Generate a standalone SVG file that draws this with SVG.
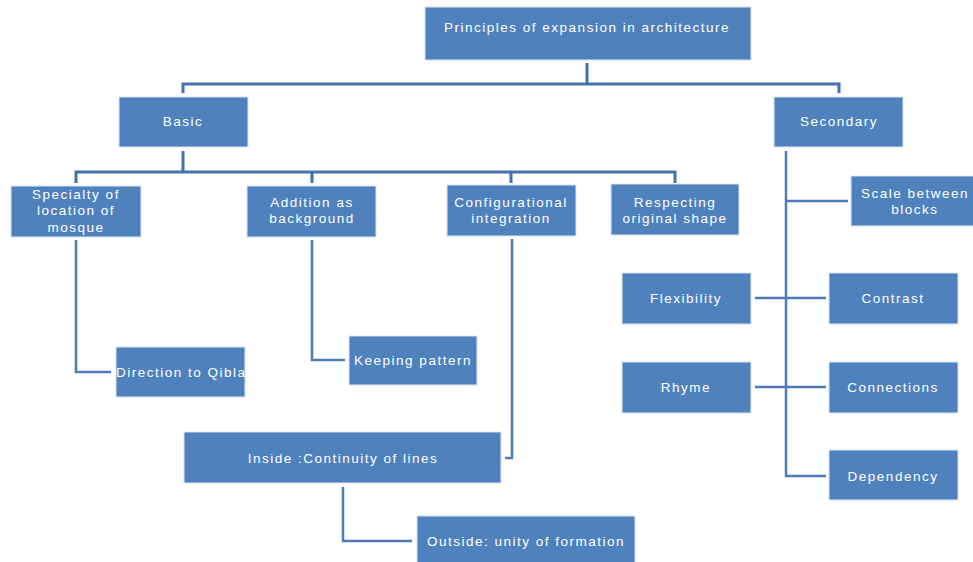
<svg xmlns="http://www.w3.org/2000/svg" width="973" height="562" viewBox="0 0 973 562">
<defs>
<clipPath id="qclip"><rect x="116" y="347" width="129" height="50"/></clipPath>
</defs>
<style>
.box{fill:#4f81bd;stroke:#dbe5f1;stroke-width:1}
.t{font-family:"Liberation Sans",Arial,sans-serif;font-size:13.5px;letter-spacing:1.5px;fill:#ffffff;text-anchor:middle;dominant-baseline:central}
.c{fill:none;stroke:#4671aa;stroke-width:3}
.c2{fill:none;stroke:#4f7cb8;stroke-width:2.5}
</style>
<rect width="973" height="562" fill="#ffffff"/>
<g id="connectors">
<path class="c" d="M587,63 V84 M183,93 V84 H839 V93"/>
<path class="c" d="M183,151 V172 M76,183 V172 H675 V183 M312,172 V183 M511,172 V183"/>
<path class="c2" d="M786,151 V476 H826 M786,201 H848 M755,298 H826 M755,387 H826"/>
<path class="c2" d="M76,240 V372 H111"/>
<path class="c2" d="M312,240 V360 H345"/>
<path class="c2" d="M512,239 V458 H505"/>
<path class="c2" d="M343,487 V541 H412"/>
</g>
<g id="n-root"><rect class="box" x="425" y="7" width="326" height="53"/><text class="t" x="587" y="27">Principles of expansion in architecture</text></g>
<g id="n-basic"><rect class="box" x="119" y="97" width="129" height="50"/><text class="t" x="183" y="121">Basic</text></g>
<g id="n-secondary"><rect class="box" x="774" y="97" width="129" height="50"/><text class="t" x="839" y="121">Secondary</text></g>
<g id="n-specialty"><rect class="box" x="11" y="186" width="130" height="51"/><text class="t"><tspan x="76" y="194">Specialty of</tspan><tspan x="76" y="210">location of</tspan><tspan x="76" y="227">mosque</tspan></text></g>
<g id="n-addition"><rect class="box" x="247" y="186" width="129" height="51"/><text class="t"><tspan x="312" y="202">Addition as</tspan><tspan x="312" y="218">background</tspan></text></g>
<g id="n-config"><rect class="box" x="447" y="185" width="129" height="51"/><text class="t"><tspan x="511" y="202">Configurational</tspan><tspan x="511" y="218">integration</tspan></text></g>
<g id="n-respect"><rect class="box" x="611" y="184" width="128" height="51"/><text class="t"><tspan x="675" y="202">Respecting</tspan><tspan x="675" y="218">original shape</tspan></text></g>
<g id="n-scale"><rect class="box" x="851" y="176" width="124" height="50"/><text class="t"><tspan x="915" y="193">Scale between</tspan><tspan x="915" y="209">blocks</tspan></text></g>
<g id="n-flex"><rect class="box" x="622" y="273" width="129" height="51"/><text class="t" x="686" y="298">Flexibility</text></g>
<g id="n-contrast"><rect class="box" x="829" y="273" width="129" height="51"/><text class="t" x="893" y="298">Contrast</text></g>
<g id="n-rhyme"><rect class="box" x="622" y="362" width="129" height="51"/><text class="t" x="686" y="387">Rhyme</text></g>
<g id="n-connections"><rect class="box" x="829" y="362" width="129" height="51"/><text class="t" x="893" y="387">Connections</text></g>
<g id="n-dependency"><rect class="box" x="829" y="450" width="129" height="50"/><text class="t" x="893" y="476">Dependency</text></g>
<g id="n-qibla"><rect class="box" x="116" y="347" width="129" height="50"/><text class="t" x="116" y="372" style="text-anchor:start" clip-path="url(#qclip)">Direction to Qibla</text></g>
<g id="n-keeping"><rect class="box" x="349" y="336" width="128" height="49"/><text class="t" x="413" y="360">Keeping pattern</text></g>
<g id="n-inside"><rect class="box" x="184" y="432" width="317" height="51"/><text class="t" x="343" y="458">Inside :Continuity of lines</text></g>
<g id="n-outside"><rect class="box" x="417" y="516" width="218" height="50"/><text class="t" x="526" y="541">Outside: unity of formation</text></g>
</svg>
